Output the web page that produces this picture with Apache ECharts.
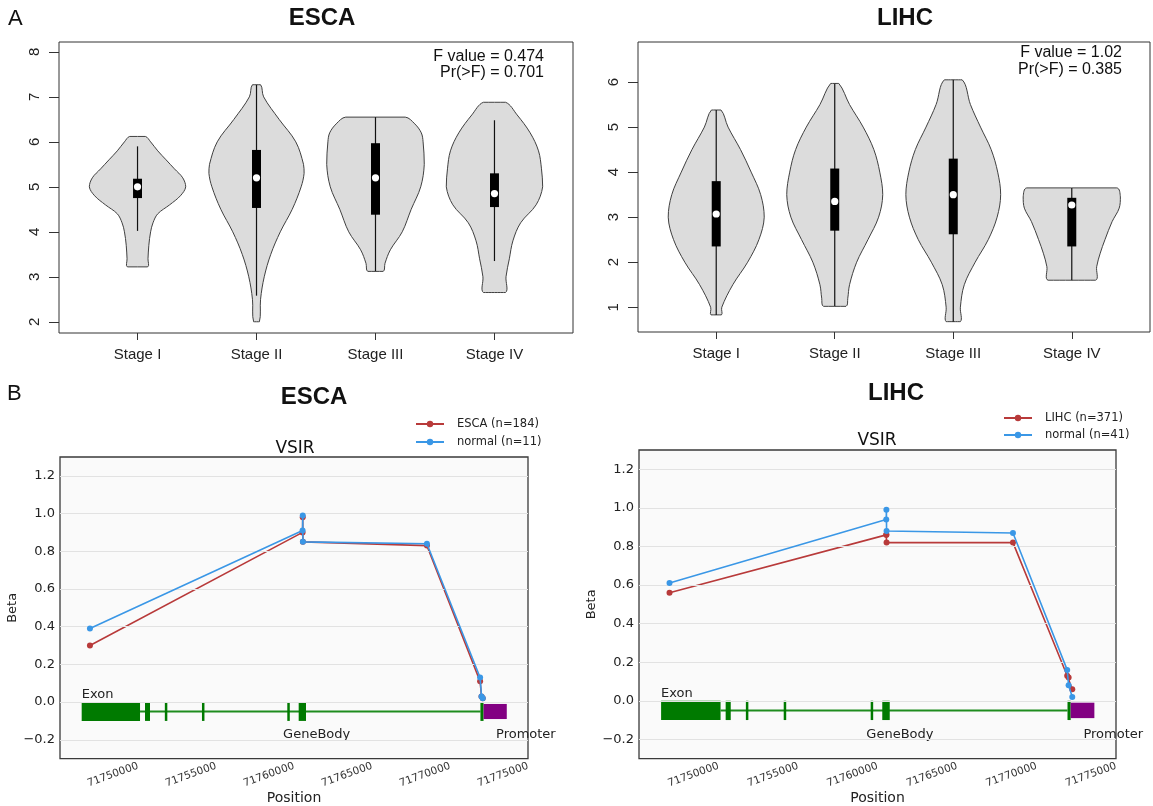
<!DOCTYPE html>
<html><head><meta charset="utf-8">
<script src="https://cdn.jsdelivr.net/npm/echarts@6/dist/echarts.min.js"></script>
<style>html,body{margin:0;padding:0;background:#fff}#c{width:1153px;height:806px}</style>
</head><body><div id="c"></div>
<script>
// ---------- Panel A: violin plots ----------
const stages = ['Stage I', 'Stage II', 'Stage III', 'Stage IV'];
const stageIndex = [1, 2, 3, 4];

// ESCA violin outlines: expression levels and half-widths (stage units)
const escaLevels = [
  [6.12, 6.0, 5.8, 5.6, 5.4, 5.2, 5.0, 4.8, 4.6, 4.4, 4.2, 4.0, 3.7, 3.4, 3.22],
  [7.27, 7.0, 6.5, 6.0, 5.5, 5.3, 5.0, 4.5, 4.0, 3.5, 3.0, 2.5, 2.0],
  [6.55, 6.4, 6.2, 6.0, 5.5, 5.0, 4.5, 4.0, 3.6, 3.3, 3.12],
  [6.88, 6.6, 6.2, 5.8, 5.4, 5.0, 4.6, 4.2, 3.8, 3.4, 3.0, 2.65]
];
const escaHalfWidths = [
  [0.066, 0.11, 0.17, 0.24, 0.31, 0.38, 0.405, 0.36, 0.27, 0.17, 0.13, 0.11, 0.095, 0.088, 0.085],
  [0.034, 0.06, 0.19, 0.33, 0.395, 0.40, 0.375, 0.30, 0.20, 0.12, 0.065, 0.034, 0.024],
  [0.25, 0.33, 0.385, 0.40, 0.41, 0.38, 0.30, 0.225, 0.125, 0.08, 0.065],
  [0.093, 0.19, 0.30, 0.37, 0.395, 0.405, 0.35, 0.22, 0.155, 0.125, 0.097, 0.093]
];
const escaWhiskerLow = [4.02, 2.58, 3.12, 3.35];
const escaQ1 = [4.75, 4.53, 4.38, 4.55];
const escaMedian = [5.0, 5.2, 5.2, 4.85];
const escaQ3 = [5.18, 5.82, 5.97, 5.3];
const escaWhiskerHigh = [5.9, 7.27, 6.55, 6.48];
const escaTicks = [2, 3, 4, 5, 6, 7, 8];

// LIHC violin outlines
const lihcLevels = [
  [5.38, 5.0, 4.5, 4.0, 3.5, 3.0, 2.5, 2.0, 1.5, 1.0, 0.83],
  [5.97, 5.5, 5.0, 4.5, 4.0, 3.5, 3.0, 2.5, 2.0, 1.5, 1.2, 1.02],
  [6.05, 5.5, 5.0, 4.5, 4.0, 3.5, 3.0, 2.5, 2.0, 1.5, 1.0, 0.68],
  [3.65, 3.45, 3.2, 2.9, 2.5, 2.2, 1.9, 1.6]
];
const lihcHalfWidths = [
  [0.04, 0.10, 0.205, 0.295, 0.375, 0.405, 0.36, 0.265, 0.14, 0.047, 0.044],
  [0.034, 0.125, 0.24, 0.33, 0.38, 0.405, 0.37, 0.28, 0.185, 0.125, 0.11, 0.095],
  [0.075, 0.145, 0.23, 0.32, 0.375, 0.40, 0.37, 0.295, 0.185, 0.093, 0.06, 0.06],
  [0.38, 0.41, 0.40, 0.34, 0.28, 0.24, 0.21, 0.20]
];
const lihcWhiskerLow = [0.83, 1.02, 0.68, 1.6];
const lihcQ1 = [2.35, 2.7, 2.62, 2.35];
const lihcMedian = [3.07, 3.35, 3.5, 3.27];
const lihcQ3 = [3.8, 4.08, 4.3, 3.43];
const lihcWhiskerHigh = [5.38, 5.97, 6.05, 3.65];
const lihcTicks = [1, 2, 3, 4, 5, 6];

const escaStats = ['F value = 0.474', 'Pr(>F) = 0.701'];
const lihcStats = ['F value = 1.02', 'Pr(>F) = 0.385'];

// ---------- Panel B: methylation ----------
const betaTicks = [-0.2, 0.0, 0.2, 0.4, 0.6, 0.8, 1.0, 1.2];
const escaProbePos = [71746920, 71760550, 71760560, 71760570, 71768520, 71771930, 71772020, 71772100];
const escaTumorBeta = [0.30, 0.90, 0.98, 0.85, 0.83, 0.11, 0.03, 0.02];
const escaNormalBeta = [0.39, 0.91, 0.99, 0.85, 0.84, 0.13, 0.03, 0.02];
const lihcProbePos = [71746920, 71760550, 71760560, 71760570, 71768520, 71771930, 71772020, 71772250];
const lihcTumorBeta = [0.56, 0.86, 0.86, 0.82, 0.82, 0.13, 0.12, 0.06];
const lihcNormalBeta = [0.61, 0.94, 0.99, 0.88, 0.87, 0.16, 0.08, 0.02];

const exonStarts = [71746390, 71750450, 71751750, 71754130, 71759600, 71760300, 71771950];
const exonEnds = [71750130, 71750770, 71751850, 71754230, 71759700, 71760770, 71772150];
const exonTop = 0.0, exonBottom = -0.1;
const geneBodyRange = [71750130, 71771950];
const geneBodyLevel = -0.05;
const promoterRange = [71772150, 71773640];
const promoterTop = -0.01, promoterBottom = -0.09;
const geneLabels = ['Exon', 'GeneBody', 'Promoter'];
const geneLabelX = [71746390, 71759300, 71772950];
const geneLabelY = [0.005, -0.175, -0.175];

const escaNames = ['ESCA (n=184)', 'normal (n=11)'];
const lihcNames = ['LIHC (n=371)', 'normal (n=41)'];
const tumorColor = '#b83a3a';
const normalColor = '#3a97e6';

// ---------- helpers ----------
const RF = 'Liberation Sans, Arial, sans-serif';
const PF = 'DejaVu Sans, sans-serif';

function violinRender(levels, widths) {
  return function (params, api) {
    const i = params.dataIndex;
    const c = api.value(0);
    const lv = levels[i], hw = widths[i];
    const pts = [];
    for (let k = 0; k < lv.length; k++) pts.push(api.coord([c + hw[k], lv[k]]));
    for (let k = lv.length - 1; k >= 0; k--) pts.push(api.coord([c - hw[k], lv[k]]));
    let mn = [Infinity, Infinity], mx = [-Infinity, -Infinity];
    pts.forEach(p => { mn = [Math.min(mn[0], p[0]), Math.min(mn[1], p[1])]; mx = [Math.max(mx[0], p[0]), Math.max(mx[1], p[1])]; });
    return {
      type: 'polygon',
      shape: { points: pts, smooth: 0.35, smoothConstraint: [mn, mx] },
      style: { fill: '#dcdcdc', stroke: '#404040', lineWidth: 1 }
    };
  };
}
function boxRender(lo, q1, q3, hi, med, boxW) {
  return function (params, api) {
    const i = params.dataIndex, c = api.value(0);
    const pLo = api.coord([c, lo[i]]), pHi = api.coord([c, hi[i]]);
    const p1 = api.coord([c, q1[i]]), p3 = api.coord([c, q3[i]]), pm = api.coord([c, med[i]]);
    return {
      type: 'group', children: [
        { type: 'line', shape: { x1: pLo[0], y1: pLo[1], x2: pHi[0], y2: pHi[1] }, style: { stroke: '#111', lineWidth: 1.2 } },
        { type: 'rect', shape: { x: p1[0] - boxW / 2, y: p3[1], width: boxW, height: p1[1] - p3[1] }, style: { fill: '#000' } },
        { type: 'circle', shape: { cx: pm[0], cy: pm[1], r: 3.6 }, style: { fill: '#fff' } }
      ]
    };
  };
}
function exonRender(params, api) {
  const a = api.coord([api.value(0), exonTop]);
  const b = api.coord([api.value(1), exonBottom]);
  let w = b[0] - a[0];
  let x = a[0];
  if (w < 2.5) { x = (a[0] + b[0]) / 2 - 1.25; w = 2.5; }
  return { type: 'rect', shape: { x: x, y: a[1], width: w, height: b[1] - a[1] }, style: { fill: '#007a00' } };
}
function promoterRender(params, api) {
  const a = api.coord([api.value(0), promoterTop]);
  const b = api.coord([api.value(1), promoterBottom]);
  return { type: 'rect', shape: { x: a[0], y: a[1], width: b[0] - a[0], height: b[1] - a[1] }, style: { fill: '#820082' } };
}
function labelRender(params, api) {
  const i = params.dataIndex;
  const p = api.coord([api.value(0), api.value(1)]);
  return { type: 'text', x: p[0], y: p[1], style: { text: geneLabels[i], font: '13px ' + PF, fill: '#222', textAlign: 'left', textVerticalAlign: i === 0 ? 'bottom' : 'middle' } };
}

function violinSeries(ax, levels, widths, lo, q1, q3, hi, med, boxW) {
  const d = stageIndex.map((s, i) => [s, med[i]]);
  return [
    { type: 'custom', xAxisIndex: ax, yAxisIndex: ax, renderItem: violinRender(levels, widths), data: d, z: 2, silent: true },
    { type: 'custom', xAxisIndex: ax, yAxisIndex: ax, renderItem: boxRender(lo, q1, q3, hi, med, boxW), data: d, z: 3, silent: true }
  ];
}
function methSeries(ax, pos, tumor, normal, names) {
  return [
    {
      type: 'line', xAxisIndex: ax, yAxisIndex: ax, z: 1, silent: true, symbol: 'none',
      data: [[geneBodyRange[0], geneBodyLevel], [geneBodyRange[1], geneBodyLevel]],
      lineStyle: { color: '#1e8c1e', width: 2 },
      markLine: { silent: true, symbol: 'none', label: { show: false }, lineStyle: { color: '#e2e2e2', width: 1, type: 'solid' }, data: betaTicks.map(v => ({ yAxis: v })) }
    },
    { type: 'custom', xAxisIndex: ax, yAxisIndex: ax, z: 2, silent: true, renderItem: exonRender, data: exonStarts.map((s, i) => [s, exonEnds[i]]) },
    { type: 'custom', xAxisIndex: ax, yAxisIndex: ax, z: 2, silent: true, renderItem: promoterRender, data: [[promoterRange[0], promoterRange[1]]] },
    { type: 'custom', xAxisIndex: ax, yAxisIndex: ax, z: 2, silent: true, renderItem: labelRender, data: geneLabelX.map((x, i) => [x, geneLabelY[i]]) },
    {
      type: 'line', name: names[0], xAxisIndex: ax, yAxisIndex: ax, z: 4, symbol: 'circle', symbolSize: 6, showAllSymbol: true,
      data: pos.map((p, i) => [p, tumor[i]]), itemStyle: { color: tumorColor }, lineStyle: { color: tumorColor, width: 1.6 }, emphasis: { disabled: true }
    },
    {
      type: 'line', name: names[1], xAxisIndex: ax, yAxisIndex: ax, z: 5, symbol: 'circle', symbolSize: 6, showAllSymbol: true,
      data: pos.map((p, i) => [p, normal[i]]), itemStyle: { color: normalColor }, lineStyle: { color: normalColor, width: 1.6 }, emphasis: { disabled: true }
    }
  ];
}

function violinX(idx) {
  return {
    type: 'value', gridIndex: idx, min: 0.34, max: 4.66,
    axisLine: { show: false }, splitLine: { show: false },
    axisTick: { show: true, inside: false, length: 7, customValues: stageIndex, lineStyle: { color: '#333' } },
    axisLabel: { customValues: stageIndex, formatter: v => stages[Math.round(v) - 1], fontFamily: RF, fontSize: 15, color: '#222', margin: 14 }
  };
}
function violinY(idx, min, max, ticks) {
  return {
    type: 'value', gridIndex: idx, min: min, max: max,
    axisLine: { show: false }, splitLine: { show: false },
    axisTick: { show: true, inside: false, length: 10, customValues: ticks, lineStyle: { color: '#333' } },
    axisLabel: { customValues: ticks, rotate: 90, fontFamily: RF, fontSize: 15, color: '#222', margin: 17 }
  };
}
function methX(idx) {
  return {
    type: 'value', gridIndex: idx, min: 71745000, max: 71775000, interval: 5000,
    axisLine: { show: false }, axisTick: { show: false }, splitLine: { show: false },
    axisLabel: { rotate: 20, showMinLabel: false, formatter: v => String(Math.round(v)), fontFamily: PF, fontSize: 10.5, color: '#333', margin: 7 },
    name: 'Position', nameLocation: 'middle', nameGap: 30,
    nameTextStyle: { fontFamily: PF, fontSize: 14, color: '#222' }
  };
}
function methY(idx, gap) {
  return {
    type: 'value', gridIndex: idx, min: -0.3, max: 1.3, splitNumber: 8,
    axisLine: { show: false }, axisTick: { show: false }, splitLine: { show: false },
    axisLabel: {
      showMinLabel: false, showMaxLabel: false, fontFamily: PF, fontSize: 13, color: '#222', margin: 5,
      formatter: v => (v < -1e-9 ? '\u2212' + Math.abs(v).toFixed(1) : Math.abs(v).toFixed(1))
    },
    name: 'Beta', nameLocation: 'middle', nameGap: gap,
    nameTextStyle: { fontFamily: PF, fontSize: 13, color: '#222' }
  };
}

function txt(text, x, y, font, align, extra) {
  return Object.assign({ type: 'text', x: x, y: y, silent: true, style: { text: text, font: font, fill: '#111', textAlign: align, textVerticalAlign: 'middle' } }, extra || {});
}

const option = {
  animation: false,
  backgroundColor: '#ffffff',
  grid: [
    { left: 59, top: 42, width: 514, height: 291, show: true, borderColor: '#333', borderWidth: 1, backgroundColor: 'transparent' },
    { left: 638, top: 42, width: 512, height: 290, show: true, borderColor: '#333', borderWidth: 1, backgroundColor: 'transparent' },
    { left: 60, top: 457, width: 468, height: 304, show: true, borderColor: '#3a3a3a', borderWidth: 1.3, backgroundColor: '#fafafa' },
    { left: 639, top: 450, width: 477, height: 311, show: true, borderColor: '#3a3a3a', borderWidth: 1.3, backgroundColor: '#fafafa' }
  ],
  xAxis: [violinX(0), violinX(1), methX(2), methX(3)],
  yAxis: [violinY(0, 1.75, 8.22, escaTicks), violinY(1, 0.45, 6.89, lihcTicks), methY(2, 37), methY(3, 39)],
  legend: [
    {
      data: escaNames, left: 407, top: 415, orient: 'vertical', itemWidth: 28, itemHeight: 8, itemGap: 6,
      backgroundColor: '#ffffff', padding: [3, 8, 3, 8], selectedMode: false,
      textStyle: { fontFamily: PF, fontSize: 11.5, color: '#222', padding: [0, 0, 0, 8] }
    },
    {
      data: lihcNames, left: 995, top: 409, orient: 'vertical', itemWidth: 28, itemHeight: 8, itemGap: 5,
      backgroundColor: '#ffffff', padding: [3, 8, 3, 8], selectedMode: false,
      textStyle: { fontFamily: PF, fontSize: 11.5, color: '#222', padding: [0, 0, 0, 8] }
    }
  ],
  graphic: [
    txt('A', 8, 19, '22px ' + RF, 'left'),
    txt('ESCA', 322, 18, 'bold 24px ' + RF, 'center'),
    txt('LIHC', 905, 18, 'bold 24px ' + RF, 'center'),
    txt(escaStats[0], 544, 57, '16px ' + RF, 'right'),
    txt(escaStats[1], 544, 73, '16px ' + RF, 'right'),
    txt(lihcStats[0], 1122, 53, '16px ' + RF, 'right'),
    txt(lihcStats[1], 1122, 70, '16px ' + RF, 'right'),
    txt('B', 7, 394, '22px ' + RF, 'left'),
    txt('ESCA', 314, 397, 'bold 24px ' + RF, 'center'),
    txt('LIHC', 896, 393, 'bold 24px ' + RF, 'center'),
    txt('VSIR', 295, 449, '17px ' + PF, 'center'),
    txt('VSIR', 877, 441, '17px ' + PF, 'center')
  ],
  series: [].concat(
    violinSeries(0, escaLevels, escaHalfWidths, escaWhiskerLow, escaQ1, escaQ3, escaWhiskerHigh, escaMedian, 9),
    violinSeries(1, lihcLevels, lihcHalfWidths, lihcWhiskerLow, lihcQ1, lihcQ3, lihcWhiskerHigh, lihcMedian, 9),
    methSeries(2, escaProbePos, escaTumorBeta, escaNormalBeta, escaNames),
    methSeries(3, lihcProbePos, lihcTumorBeta, lihcNormalBeta, lihcNames)
  )
};

const chart = echarts.init(document.getElementById('c'));
chart.setOption(option);
</script>
</body></html>
